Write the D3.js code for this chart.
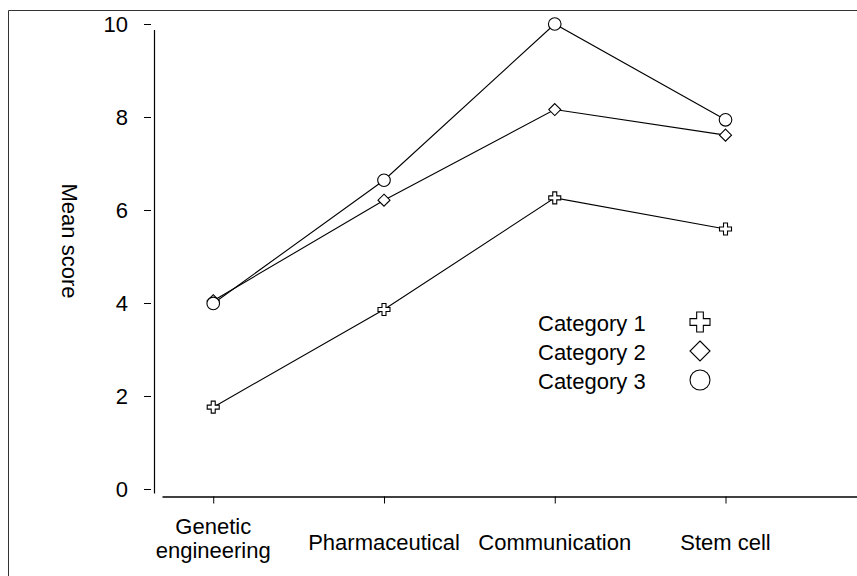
<!DOCTYPE html>
<html>
<head>
<title>Mean score</title>
<style>
body { margin: 0; background: white; overflow: hidden; }
svg { display: block; }
svg text { font-family: "Liberation Sans", Arial, sans-serif; font-size: 22px; fill: black; }
.series { fill: none; stroke: black; stroke-width: 1.1px; }
.marker { fill: white; stroke: black; stroke-width: 1.1px; }
</style>
</head>
<body>
<script src="https://cdn.jsdelivr.net/npm/d3@7"></script>
<script>
const width = 857;
const height = 576;

const categories = ['Genetic engineering', 'Pharmaceutical', 'Communication', 'Stem cell'];
const seriesNames = ['Category 1', 'Category 2', 'Category 3'];
const category1 = [1.76, 3.86, 6.26, 5.59];
const category2 = [4.05, 6.21, 8.16, 7.61];
const category3 = [3.99, 6.64, 10.0, 7.94];
const yTicks = [0, 2, 4, 6, 8, 10];

const seriesValues = [category1, category2, category3];
const shapes = ['plus', 'diamond', 'circle'];

const svg = d3.select('body').append('svg')
    .attr('width', width)
    .attr('height', height);

// frame (only left and top edges show in the picture)
svg.append('path')
    .attr('d', `M8.5,${height}V10.5H${width}`)
    .attr('fill', 'none')
    .attr('stroke', '#333')
    .attr('stroke-width', 1);

const x = d3.scaleLinear().domain([-0.3, 3.77]).range([162, 857]);
const y = d3.scaleLinear().domain([0, 10]).range([489, 24]);
const xAxisY = 496.5;

function markerPath(shape, s){
    if (shape === 'plus'){
        const a = s, b = s / 3;
        return `M${-b},${-a}H${b}V${-b}H${a}V${b}H${b}V${a}H${-b}V${b}H${-a}V${-b}H${-b}Z`;
    }
    if (shape === 'diamond'){
        return `M0,${-s}L${s},0L0,${s}L${-s},0Z`;
    }
    return d3.arc()({innerRadius: 0, outerRadius: s, startAngle: 0, endAngle: 2 * Math.PI});
}

// y axis: ticks drawn apart from the axis line
const yAxis = svg.append('g')
    .attr('transform', 'translate(151,0)')
    .call(d3.axisLeft(y).tickValues(yTicks).tickSize(7).tickPadding(16).tickSizeOuter(0));
yAxis.select('.domain').remove();
yAxis.selectAll('text').style('font-size', '22px').attr('dy', '0.36em');
yAxis.selectAll('line').attr('stroke', 'black');

svg.append('line')
    .attr('x1', 154.5).attr('x2', 154.5)
    .attr('y1', y(10) + 6).attr('y2', xAxisY - 3)
    .attr('stroke', 'black').attr('stroke-width', 1.2);

// x axis
const xAxis = svg.append('g')
    .attr('transform', `translate(0,${xAxisY})`)
    .call(d3.axisBottom(x).tickValues(d3.range(categories.length)).tickSize(7).tickSizeOuter(0).tickFormat(''));
xAxis.select('.domain').attr('stroke', 'black').attr('stroke-width', 1.3);
xAxis.selectAll('line').attr('stroke', 'black');

const labelG = svg.append('g');
categories.forEach((c, i) => {
    const words = c === 'Genetic engineering' ? ['Genetic', 'engineering'] : [c];
    words.forEach((w, j) => {
        labelG.append('text')
            .attr('text-anchor', 'middle')
            .attr('x', x(i))
            .attr('y', words.length > 1 ? 534 + j * 24 : 550)
            .text(w);
    });
});

// y title
svg.append('text')
    .attr('transform', 'translate(62,241) rotate(90)')
    .attr('text-anchor', 'middle')
    .text('Mean score');

// lines and markers
const line = d3.line().x((d, i) => x(i)).y(d => y(d));

seriesValues.forEach(vals => {
    svg.append('path').attr('class', 'series').attr('d', line(vals));
});
seriesValues.forEach((vals, k) => {
    svg.append('g').selectAll('path')
        .data(vals)
        .join('path')
        .attr('class', 'marker')
        .attr('transform', (d, i) => `translate(${x(i)},${y(d)})`)
        .attr('d', markerPath(shapes[k], k === 2 ? 6.3 : 6));
});

// legend
const legend = svg.append('g').attr('transform', 'translate(538,322)');
seriesNames.forEach((n, k) => {
    legend.append('text')
        .attr('x', 0)
        .attr('y', k * 29 + 9)
        .text(n);
    legend.append('path')
        .attr('class', 'marker')
        .attr('transform', `translate(162,${k * 29})`)
        .attr('d', markerPath(shapes[k], 10));
});
</script>
</body>
</html>
